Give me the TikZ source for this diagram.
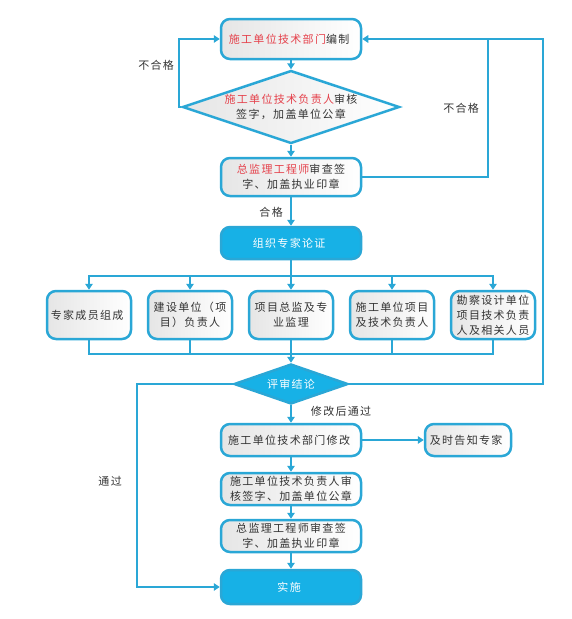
\documentclass[tikz,border=0pt]{standalone}
\usepackage{fontspec}
\newfontfamily\cjk[LetterSpace=12]{Noto Sans CJK SC}
\usetikzlibrary{arrows.meta}
\usetikzlibrary{shapes.geometric}
\definecolor{flowline}{HTML}{2AA7D6}
\definecolor{flowfill}{HTML}{17B1E6}
\definecolor{flowred}{HTML}{E5414B}
\definecolor{flowtext}{HTML}{333333}
\newcommand\hl[1]{\textcolor{flowred}{#1}}
\def\midx{291}
\def\colsep{101}
\def\rowy{315}

\begin{document}
\begin{tikzpicture}[
    x=1pt, y=-1pt,
    arrowtip/.style={
      -{Triangle[width=7.5pt,length=6pt]}
    },
    link/.style={
      draw=flowline, line width=2.5pt
    },
    txt/.style={
      font=\cjk\fontsize{11}{15}\selectfont, text=flowtext, align=center
    },
    basebox/.style={
      txt, draw=flowline, line width=2.5pt, rounded corners=9pt,
      minimum width=140pt, minimum height=32pt, inner sep=2pt
    },
    plainbox/.style={
      basebox, left color=gray!20, right color=white
    },
    keybox/.style={
      basebox, fill=flowfill, text=white
    },
    memberbox/.style={
      plainbox, minimum width=84pt, minimum height=48pt
    },
    decision/.style={
      diamond, draw=flowline, line width=2.5pt, inner sep=0pt
    }
  ]
    \useasboundingbox (0,0) rectangle (572,619);

    % review loop at the top
    \node[plainbox, minimum height=40pt] (Draft) at (\midx,39) { \hl{施工单位技术部门}编制 };
    \node[decision, left color=gray!20, right color=white,
          minimum width=217pt, minimum height=73pt,
          label={[txt, name=CheckText]center:{\hl{施工单位技术负责人}审核\\签字，加盖单位公章}}]
          (Check) at (\midx,107) {};
    \node[plainbox, minimum height=38pt] (Sign) at (\midx,177) { \hl{总监理工程师}审查签\\字、加盖执业印章 };
    \node[keybox] (Org) at (\midx,243) { 组织专家论证 };

    % expert panel
    \node[memberbox] (MemA) at (\midx-2*\colsep,\rowy) { 专家成员组成 };
    \node[memberbox] (MemB) at (\midx-1*\colsep,\rowy) { 建设单位（项\\目）负责人 };
    \node[memberbox] (MemC) at (\midx,\rowy)          { 项目总监及专\\业监理 };
    \node[memberbox] (MemD) at (\midx+1*\colsep,\rowy) { 施工单位项目\\及技术负责人 };
    \node[memberbox] (MemE) at (\midx+2*\colsep,\rowy) { 勘察设计单位\\项目技术负责\\人及相关人员 };

    % conclusion and follow-up
    \node[decision, fill=flowfill, minimum width=114pt, minimum height=40pt,
          label={[txt, text=white, name=ResultText]center:{评审结论}}]
          (Result) at (\midx,384) {};
    \node[plainbox] (Revise) at (\midx,440) { 施工单位技术部门修改 };
    \node[plainbox, minimum width=86pt] (Notify) at (468,440) { 及时告知专家 };
    \node[plainbox] (ReSign) at (\midx,489) { 施工单位技术负责人审\\核签字、加盖单位公章 };
    \node[plainbox] (ReSeal) at (\midx,536) { 总监理工程师审查签\\字、加盖执业印章 };
    \node[keybox, minimum height=34pt] (Go) at (\midx,587) { 实施 };

    % corners of the loops
    \coordinate (LoopL) at (179,107);
    \coordinate (LoopR) at (488,39);
    \coordinate (LoopO) at (543,39);
    \coordinate (PassL) at (137,384);
    \coordinate (SplitTop) at (\midx,276);
    \coordinate (JoinBot) at (\midx,354);

    % arrows
    \draw[link,arrowtip] (Draft.south) -- (Check.north);
    \draw[link,arrowtip] (Check.south) -- (Sign.north);
    \draw[link,arrowtip] (Check.west) -- (LoopL) |- (Draft.west);
    \draw[link,arrowtip] (Sign.east) -| (LoopR) -- (Draft.east);
    \draw[link]          (Result.east) -| (LoopO) -- (LoopR);
    \draw[link,arrowtip] (Sign.south) -- (Org.north);

    \draw[link] (Org.south) -- (SplitTop);
    \foreach \m in {MemA,MemB,MemC,MemD,MemE}
      \draw[link,arrowtip] (SplitTop) -| (\m.north);
    \foreach \m in {MemA,MemB,MemC,MemD,MemE}
      \draw[link] (\m.south) |- (JoinBot);
    \draw[link,arrowtip] (JoinBot) -- (Result.north);

    \draw[link,arrowtip] (Result.west) -- (PassL) |- (Go.west);
    \draw[link,arrowtip] (Result.south) -- (Revise.north);
    \draw[link,arrowtip] (Revise.east) -- (Notify.west);
    \draw[link,arrowtip] (Revise.south) -- (ReSign.north);
    \draw[link,arrowtip] (ReSign.south) -- (ReSeal.north);
    \draw[link,arrowtip] (ReSeal.south) -- (Go.north);

    % labels
    \node[txt] (FailL) at (158,65)  { 不合格 };
    \node[txt] (FailR) at (463,108) { 不合格 };
    \node[txt] (PassA) at (273,212) { 合格 };
    \node[txt] (PassB) at (343,411) { 修改后通过 };
    \node[txt] (PassC) at (112,481) { 通过 };
  \end{tikzpicture}
\end{document}
